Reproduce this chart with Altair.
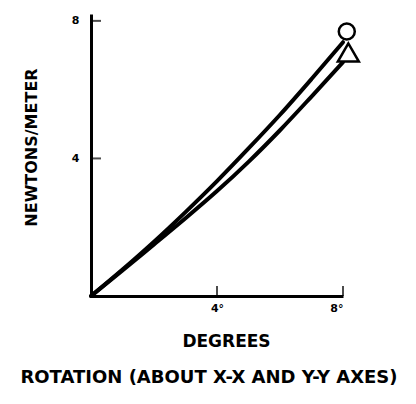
import altair as alt
import pandas as pd

degrees = [0, 1, 2, 3, 4, 5, 6, 7, 8]
upper_vals = [0, 0.77, 1.58, 2.44, 3.34, 4.29, 5.27, 6.31, 7.38]
lower_vals = [0, 0.74, 1.50, 2.26, 3.05, 3.90, 4.82, 5.80, 6.80]
marker_x = [8.12, 8.17]
marker_y = [7.69, 7.08]
marker_shape = ["circle", "triangle-up"]
marker_size = [256, 441]
x_ticks = [4, 8]
y_ticks = [4, 8]

lines = pd.DataFrame(
    {"deg": degrees * 2,
     "val": upper_vals + lower_vals,
     "series": ["X-X"] * len(degrees) + ["Y-Y"] * len(degrees)}
)
markers = pd.DataFrame(
    {"deg": marker_x, "val": marker_y, "shape": marker_shape, "size": marker_size}
)
xt = pd.DataFrame({"deg": x_ticks, "val": [0] * len(x_ticks)})
yt = pd.DataFrame({"deg": [0] * len(y_ticks), "val": y_ticks})

F = "DejaVu Sans"

xscale = alt.Scale(domain=[0, 8], nice=False)
yscale = alt.Scale(domain=[0, 8.2], nice=False)

xaxis = alt.Axis(
    values=x_ticks, ticks=False, grid=False, domainColor="black", domainWidth=3,
    labelExpr="datum.value == 4 ? '4°' : '8°'", labelFont=F, labelFontWeight="bold",
    labelFontSize=11, labelColor="black", labelPadding=6,
    title="DEGREES", titleFont=F, titleFontWeight="bold", titleFontSize=17,
    titleColor="black", titlePadding=20, titleX=135,
)
yaxis = alt.Axis(
    values=y_ticks, ticks=False, grid=False, domainColor="black", domainWidth=3,
    labelFont=F, labelFontWeight="bold", labelFontSize=11, labelColor="black",
    labelPadding=12,
    title="NEWTONS/METER", titleFont=F, titleFontWeight="bold", titleFontSize=16,
    titleColor="black", titlePadding=32, titleY=133,
)

base_line = alt.Chart(lines).mark_line(
    color="black", strokeWidth=4, strokeCap="round", interpolate="monotone"
).encode(
    x=alt.X("deg:Q", scale=xscale, axis=xaxis),
    y=alt.Y("val:Q", scale=yscale, axis=yaxis),
    detail="series:N",
)

pts = alt.Chart(markers).mark_point(
    filled=True, fill="white", stroke="black", strokeWidth=2.5, opacity=1
).encode(
    x=alt.X("deg:Q", scale=xscale, axis=xaxis),
    y=alt.Y("val:Q", scale=yscale, axis=yaxis),
    shape=alt.Shape("shape:N", scale=None),
    size=alt.Size("size:Q", scale=None),
)

xtick_marks = alt.Chart(xt).mark_tick(
    color="black", thickness=2, size=10, orient="vertical", yOffset=-5
).encode(x=alt.X("deg:Q", scale=xscale, axis=xaxis),
         y=alt.Y("val:Q", scale=yscale, axis=yaxis))

ytick_marks = alt.Chart(yt).mark_tick(
    color="black", thickness=2, size=10, orient="horizontal", xOffset=5
).encode(x=alt.X("deg:Q", scale=xscale, axis=xaxis),
         y=alt.Y("val:Q", scale=yscale, axis=yaxis))

chart = (
    alt.layer(base_line, xtick_marks, ytick_marks, pts)
    .properties(
        width=252, height=282,
        view=alt.ViewBackground(stroke="transparent", strokeWidth=0),
        title=alt.TitleParams(
            "ROTATION (ABOUT X-X AND Y-Y AXES)", orient="bottom", anchor="middle",
            font=F, fontWeight="bold", fontSize=18, color="black", offset=20, dx=-8,
        ),
        autosize=alt.AutoSizeParams(type="none"),
        padding={"left": 83, "top": 6, "right": 60, "bottom": 96},
    )
    .configure_view(stroke="transparent", strokeWidth=0)
    .configure_axis(grid=False)
    .configure(background="white")
)

chart.save("out.html", embed_options={"renderer": "svg", "actions": False})
